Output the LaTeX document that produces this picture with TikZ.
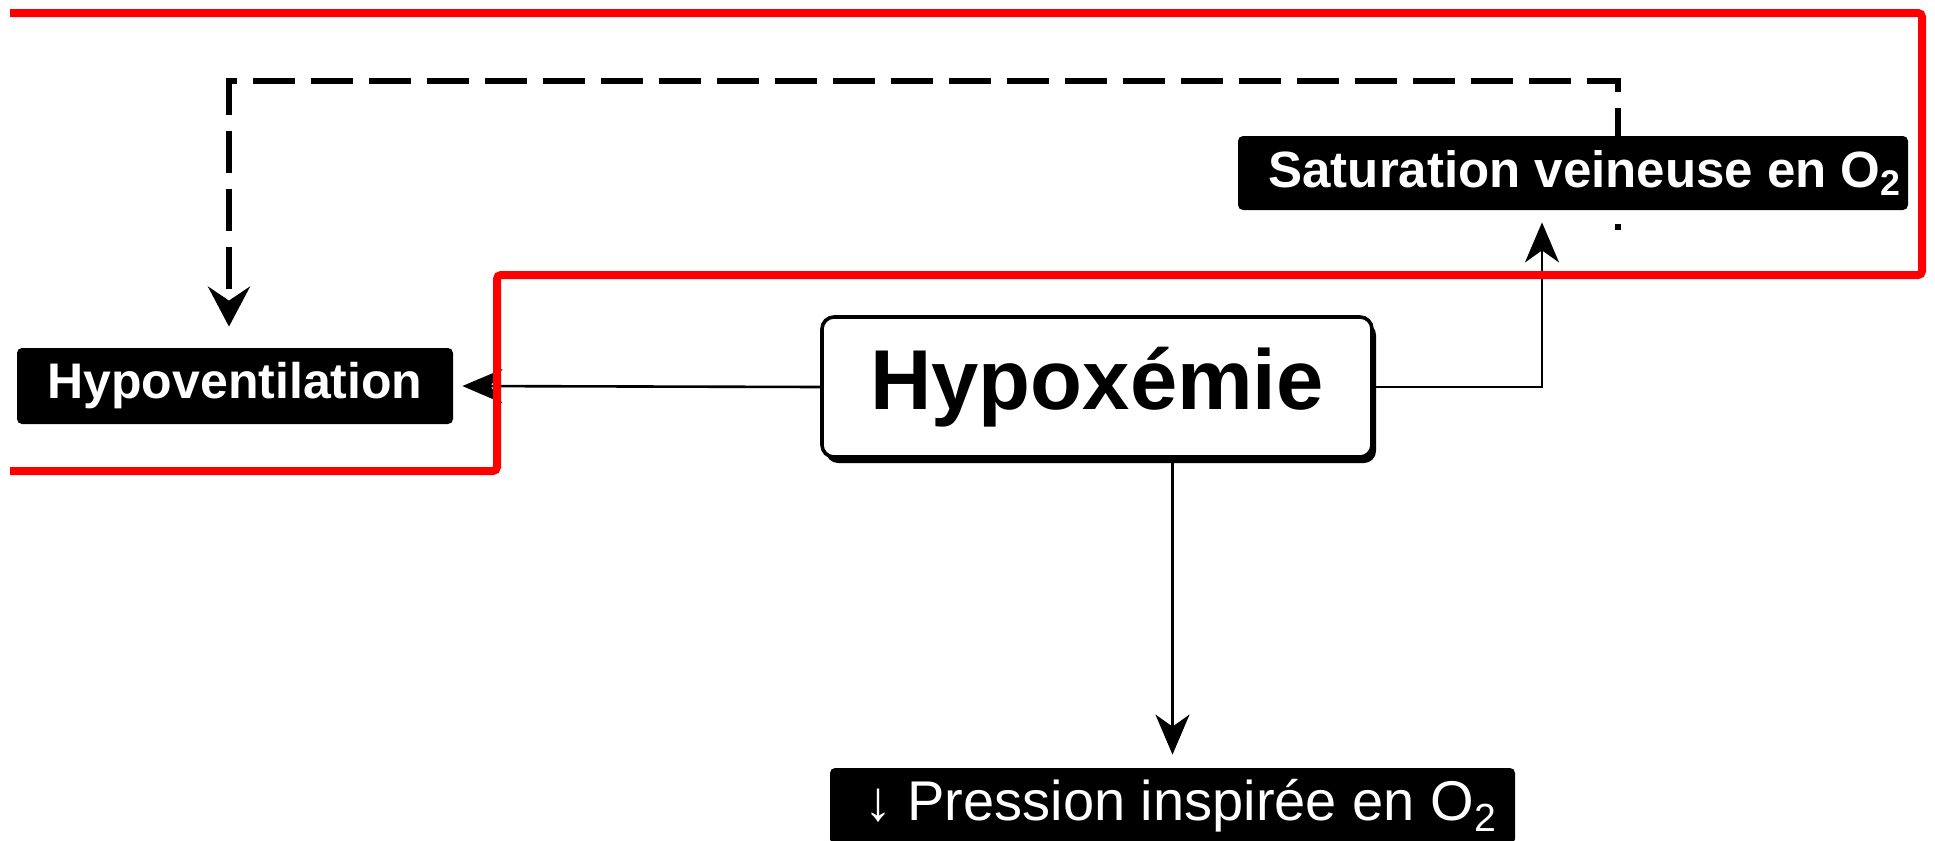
\documentclass[tikz,border=0pt]{standalone}
\usepackage{fontspec}
\setmainfont{Liberation Sans}
\usetikzlibrary{arrows.meta,shadows,calc,backgrounds}
\begin{document}
\begin{tikzpicture}[x=0.5pt,y=-0.5pt,
  darkbox/.style={fill=black, text=white, rounded corners=2.5pt, inner sep=0pt},
  mainbox/.style={draw=black, fill=white, line width=1.8pt, rounded corners=6pt, inner sep=0pt,
    drop shadow={shadow xshift=2pt, shadow yshift=-3pt, fill=black, opacity=1}},
  link/.style={line width=1.3pt, -{Stealth[length=20pt,width=17pt,inset=6pt]}},
  feedback/.style={line width=2.6pt, dash pattern=on 21pt off 8pt, dash phase=18pt,
    -{Stealth[length=20pt,width=21pt,inset=7pt]}},
  zone/.style={draw=red, line width=4pt, rounded corners=2pt}
]
\clip (0,0) rectangle (1935,841);
\useasboundingbox (0,0) rectangle (1935,841);

% boxes
\node[darkbox, minimum width=218pt, minimum height=38pt, font=\fontsize{25pt}{30pt}\bfseries\selectfont]
  (hypov) at (235,386) {Hypoventilation};
\node[mainbox, minimum width=275pt, minimum height=70pt, font=\fontsize{42.5pt}{50pt}\bfseries\selectfont]
  (hypox) at (1097,387) {Hypoxémie};
\node[darkbox, minimum width=335pt, minimum height=37pt, font=\fontsize{25.5pt}{30pt}\bfseries\selectfont]
  (sat) at (1573,173) {\hspace*{12pt}Saturation veineuse en O\textsubscript{2}};
\node[darkbox, minimum width=342.5pt, minimum height=38pt, font=\fontsize{28pt}{32pt}\selectfont]
  (press) at (1172.5,806) {\hspace*{8pt}↓ Pression inspirée en O\textsubscript{2}};

% feedback loop (dashed), passing behind the venous saturation box
\coordinate (fbstart) at (1618,230);
\coordinate (fbtop) at (1618,81);
\begin{scope}[on background layer]
  \draw[feedback, shorten >=10.5pt]
    (fbstart) -- (fbtop) -| ($(hypov.north)+(-6,0)$);
\end{scope}

% causal links from the central box
\draw[link, shorten >=4.5pt] (hypox.west) -- (hypov.east);
\draw[link, shorten >=6pt] (hypox.east) -| ($(sat.south)+(-31,0)$);
\draw[link, shorten >=6.5pt] (hypox.south -| press.north) -- (press.north);

% red outline
\draw[zone] (10,13) -- (1922,13) -- (1922,275) -- (497,275) -- (497,471) -- (10,471);
\end{tikzpicture}
\end{document}
